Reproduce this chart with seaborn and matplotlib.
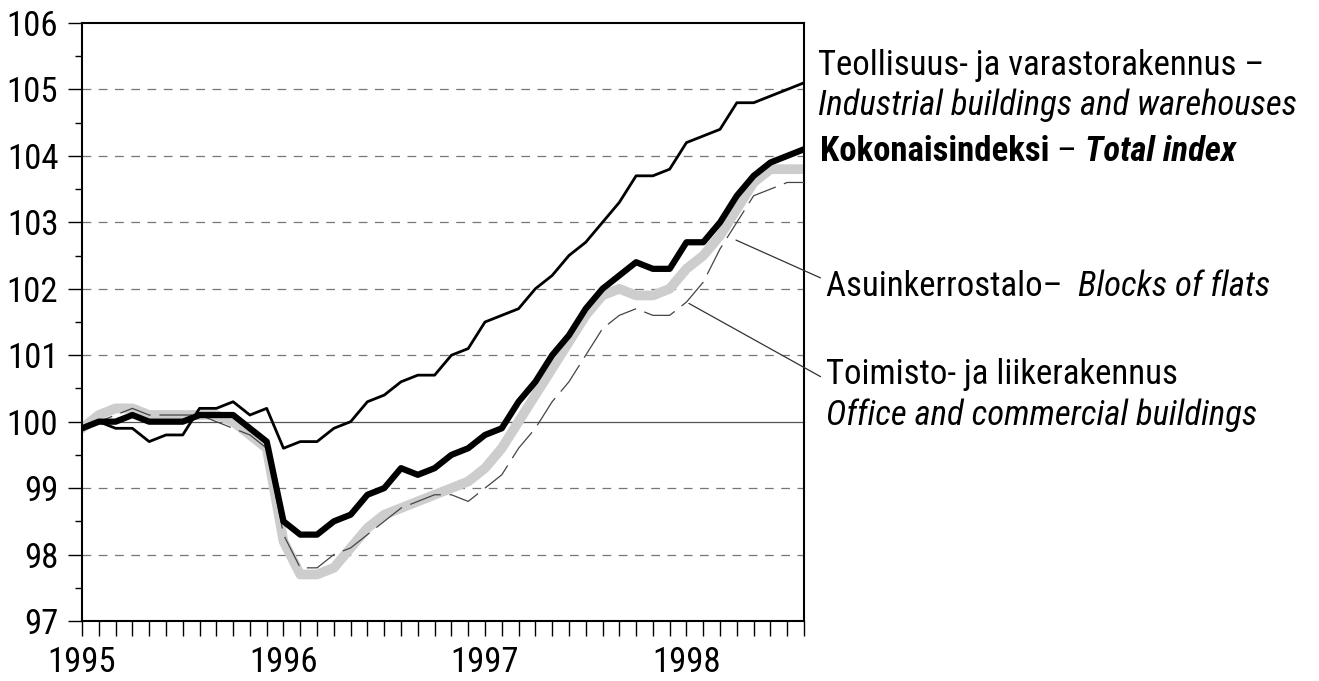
import numpy as np
import pandas as pd
import matplotlib
matplotlib.use("Agg")
import matplotlib.pyplot as plt
import seaborn as sns

# ---- data (monthly index, Jan 1995 .. Aug 1998) ----
months = list(range(44))
year_labels = ["1995", "1996", "1997", "1998"]
year_positions = [0, 12, 24, 36]

total = [99.9, 100.0, 100.0, 100.1, 100.0, 100.0, 100.0, 100.1, 100.1, 100.1, 99.9, 99.7,
         98.5, 98.3, 98.3, 98.5, 98.6, 98.9, 99.0, 99.3, 99.2, 99.3, 99.5, 99.6,
         99.8, 99.9, 100.3, 100.6, 101.0, 101.3, 101.7, 102.0, 102.2, 102.4, 102.3, 102.3,
         102.7, 102.7, 103.0, 103.4, 103.7, 103.9, 104.0, 104.1]
industrial = [99.9, 100.0, 99.9, 99.9, 99.7, 99.8, 99.8, 100.2, 100.2, 100.3, 100.1, 100.2,
              99.6, 99.7, 99.7, 99.9, 100.0, 100.3, 100.4, 100.6, 100.7, 100.7, 101.0, 101.1,
              101.5, 101.6, 101.7, 102.0, 102.2, 102.5, 102.7, 103.0, 103.3, 103.7, 103.7, 103.8,
              104.2, 104.3, 104.4, 104.8, 104.8, 104.9, 105.0, 105.1]
flats = [99.9, 100.1, 100.2, 100.2, 100.1, 100.1, 100.1, 100.1, 100.1, 100.0, 99.8, 99.6,
         98.2, 97.7, 97.7, 97.8, 98.1, 98.4, 98.6, 98.7, 98.8, 98.9, 99.0, 99.1,
         99.3, 99.6, 100.0, 100.4, 100.8, 101.2, 101.6, 101.9, 102.0, 101.9, 101.9, 102.0,
         102.3, 102.5, 102.8, 103.2, 103.6, 103.8, 103.8, 103.8]
office = [99.9, 100.0, 100.1, 100.2, 100.1, 100.1, 100.1, 100.1, 100.0, 99.9, 99.8, 99.6,
          98.3, 97.8, 97.8, 98.0, 98.1, 98.3, 98.5, 98.7, 98.8, 98.9, 98.9, 98.8,
          99.0, 99.2, 99.6, 99.9, 100.3, 100.6, 101.0, 101.4, 101.6, 101.7, 101.6, 101.6,
          101.8, 102.1, 102.6, 103.0, 103.4, 103.5, 103.6, 103.6]

y_ticks = [97, 98, 99, 100, 101, 102, 103, 104, 105, 106]

df = pd.DataFrame({"month": months, "total": total, "industrial": industrial,
                   "flats": flats, "office": office})

sns.set_theme(style="white")
FONT = ["Roboto Condensed", "DejaVu Sans"]
plt.rcParams["font.family"] = FONT

W, H = 1319, 681
fig = plt.figure(figsize=(W / 100, H / 100), dpi=100)
ax = fig.add_axes([82 / W, 1 - 621 / H, (804 - 82) / W, (621 - 23) / H])

# grid lines
for v in y_ticks[1:-1]:
    if v == 100:
        ax.axhline(v, color="#555555", lw=0.9, zorder=1)
    else:
        ax.axhline(v, color="#777777", lw=0.9, dashes=(7, 6), zorder=1)

sns.lineplot(data=df, x="month", y="flats", ax=ax, color="#cdcdcd", lw=7.0, zorder=2,
             solid_capstyle="round", solid_joinstyle="round")
sns.lineplot(data=df, x="month", y="office", ax=ax, color="#444444", lw=0.9, zorder=3)
ax.lines[-1].set_dashes((26, 7))
sns.lineplot(data=df, x="month", y="industrial", ax=ax, color="black", lw=2.0, zorder=4)
sns.lineplot(data=df, x="month", y="total", ax=ax, color="black", lw=4.5, zorder=5,
             solid_joinstyle="round", solid_capstyle="round")

ax.set_xlim(0, 43)
ax.set_ylim(97, 106)
ax.set_xlabel("")
ax.set_ylabel("")

ax.set_xticks(year_positions)
ax.set_xticklabels(year_labels)
ax.set_xticks(months, minor=True)
ax.set_yticks(y_ticks)
ax.set_yticklabels([str(v) for v in y_ticks])
ax.set_yticks(np.arange(97.5, 106, 1.0), minor=True)

ax.tick_params(axis="x", which="both", direction="out", length=11, width=1.0,
               bottom=True, labelsize=25, pad=7, color="black", labelcolor="black")
ax.tick_params(axis="y", which="major", direction="out", length=10, width=1.0,
               left=True, labelsize=25, pad=7, color="black", labelcolor="black")
ax.tick_params(axis="y", which="minor", direction="out", length=5, width=1.0,
               left=True, color="black")
for s in ax.spines.values():
    s.set_visible(True)
    s.set_color("black")
    s.set_linewidth(1.5)

# ---- labels with mixed styles ----
fig.canvas.draw()
renderer = fig.canvas.get_renderer()


def line_of_text(x_px, y_px_top, pieces, size=25):
    """pieces: list of (text, weight, style). y given from top (pixels)."""
    x = x_px
    for txt, weight, style in pieces:
        t = fig.text(x / W, 1 - y_px_top / H, txt, fontsize=size, fontweight=weight,
                     fontstyle=style, ha="left", va="center_baseline", color="black",
                     family=FONT)
        bb = t.get_window_extent(renderer=renderer)
        x = x + bb.width


line_of_text(818, 62, [("Teollisuus- ja varastorakennus \u2013", "normal", "normal")])
line_of_text(818, 102, [("Industrial buildings and warehouses", "normal", "italic")])
line_of_text(820, 148, [("Kokonaisindeksi", "bold", "normal"),
                        (" \u2013 ", "normal", "normal"),
                        ("Total index", "bold", "italic")])
line_of_text(826, 283, [("Asuinkerrostalo\u2013  ", "normal", "normal"),
                        ("Blocks of flats", "normal", "italic")])
line_of_text(826, 371, [("Toimisto- ja liikerakennus", "normal", "normal")])
line_of_text(826, 412, [("Office and commercial buildings", "normal", "italic")])

# leader lines
ax.annotate("", xy=(38.8, 102.75), xytext=(823, H - 279), textcoords="figure pixels",
            arrowprops=dict(arrowstyle="-", lw=0.9, color="#333333"), annotation_clip=False)
ax.annotate("", xy=(36.0, 101.8), xytext=(823, H - 378), textcoords="figure pixels",
            arrowprops=dict(arrowstyle="-", lw=0.9, color="#333333"), annotation_clip=False)

fig.savefig("out.png", dpi=100, facecolor="white")
